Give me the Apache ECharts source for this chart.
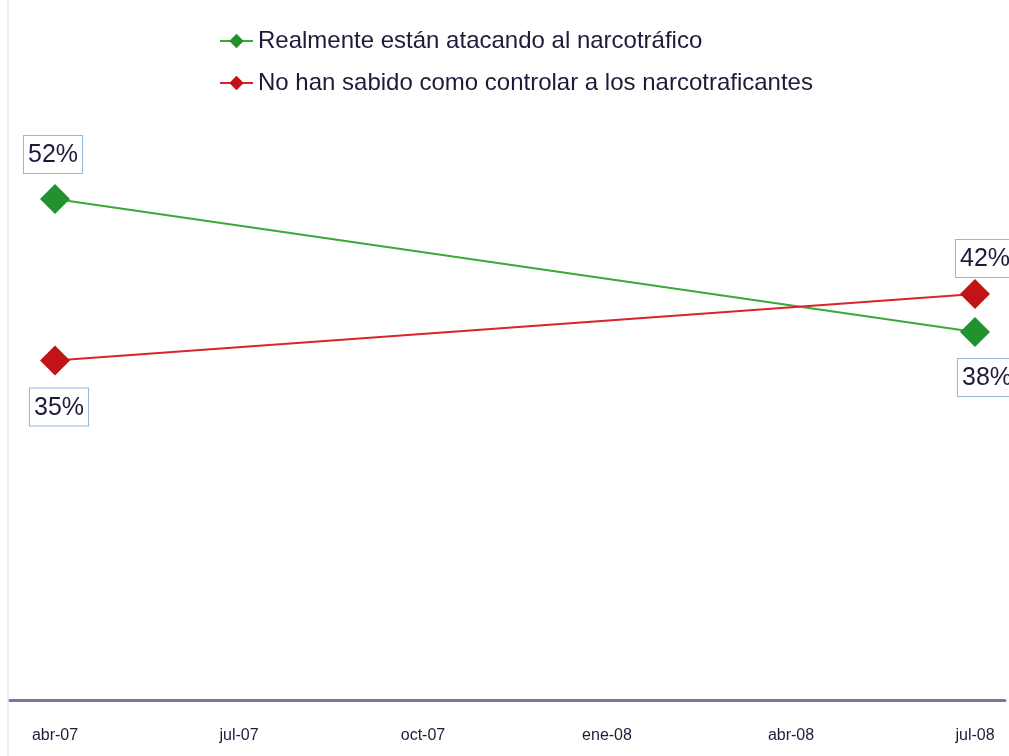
<!DOCTYPE html>
<html><head><meta charset="utf-8">
<script src="https://cdn.jsdelivr.net/npm/echarts@6/dist/echarts.min.js"></script>
<style>html,body{margin:0;padding:0;background:#fff}#c{width:1009px;height:756px}</style>
</head><body><div id="c"></div>
<script>
const categories = ['abr-07','jul-07','oct-07','ene-08','abr-08','jul-08'];
const seriesNames = ['Realmente están atacando al narcotráfico','No han sabido como controlar a los narcotraficantes'];
const atacando = [52, null, null, null, null, 38];
const noControl = [35, null, null, null, null, 42];
const labelPos = {atacando: ['top', null, null, null, null, 'bottom'], noControl: ['bottom', null, null, null, null, 'top']};
const labelDist = {atacando: [11, 0, 0, 0, 0, 12], noControl: [13, 0, 0, 0, 0, 2]};
const labelShift = {atacando: [-2, 0, 0, 0, 0, 12], noControl: [4, 0, 0, 0, 0, 10]};

const FONT = '"Liberation Sans Narrow","Arial Narrow","Liberation Sans",Arial,sans-serif';
function buildData(vals, pos, dist, shift) {
  return vals.map((v, i) => v == null ? null : {
    value: v,
    label: {position: pos[i], distance: dist[i], offset: [shift[i], 0]}
  });
}
const boxLabel = {
  show: true,
  formatter: '{c}%',
  fontFamily: FONT,
  fontSize: 25,
  color: '#1c1c3a',
  backgroundColor: '#fff',
  borderColor: '#8fb8e0',
  borderWidth: 1,
  padding: [7, 4, 5, 4]
};
const chart = echarts.init(document.getElementById('c'));
chart.setOption({
  backgroundColor: '#fff',
  animation: false,
  legend: {
    orient: 'vertical', left: 214, top: 24, itemGap: 18,
    itemWidth: 33, itemHeight: 18,
    textStyle: {fontFamily: FONT, fontSize: 24, color: '#1c1c3a'},
    data: seriesNames
  },
  grid: [
    {left: 55, right: 34, top: 28, bottom: 63},
    {left: 10, right: 4, top: 28, bottom: 56}
  ],
  xAxis: [
    {type: 'category', gridIndex: 0, data: categories, boundaryGap: false,
     axisLine: {show: false}, axisTick: {show: false},
     axisLabel: {fontFamily: FONT, fontSize: 16, color: '#1c1c3a', margin: 35}},
    {type: 'category', gridIndex: 1, data: [''],
     axisLine: {show: true, lineStyle: {color: '#7379a6', width: 3}},
     axisTick: {show: false}, axisLabel: {show: false}}
  ],
  yAxis: [
    {type: 'value', gridIndex: 0, min: 0, max: 70, show: false},
    {type: 'value', gridIndex: 1, show: false}
  ],
  graphic: [{type: 'line', shape: {x1: 8, y1: 0, x2: 8, y2: 756}, style: {stroke: '#cfe6f5', lineWidth: 1}}],
  series: [
    {name: seriesNames[0], type: 'line', xAxisIndex: 0, yAxisIndex: 0,
     data: buildData(atacando, labelPos.atacando, labelDist.atacando, labelShift.atacando), connectNulls: true,
     color: '#22922c', symbol: 'diamond', symbolSize: 30,
     lineStyle: {width: 2, color: '#3aa83a'}, label: boxLabel},
    {name: seriesNames[1], type: 'line', xAxisIndex: 0, yAxisIndex: 0,
     data: buildData(noControl, labelPos.noControl, labelDist.noControl, labelShift.noControl), connectNulls: true,
     color: '#c01418', symbol: 'diamond', symbolSize: 30,
     lineStyle: {width: 2, color: '#d8242a'}, label: boxLabel}
  ]
});
</script></body></html>
